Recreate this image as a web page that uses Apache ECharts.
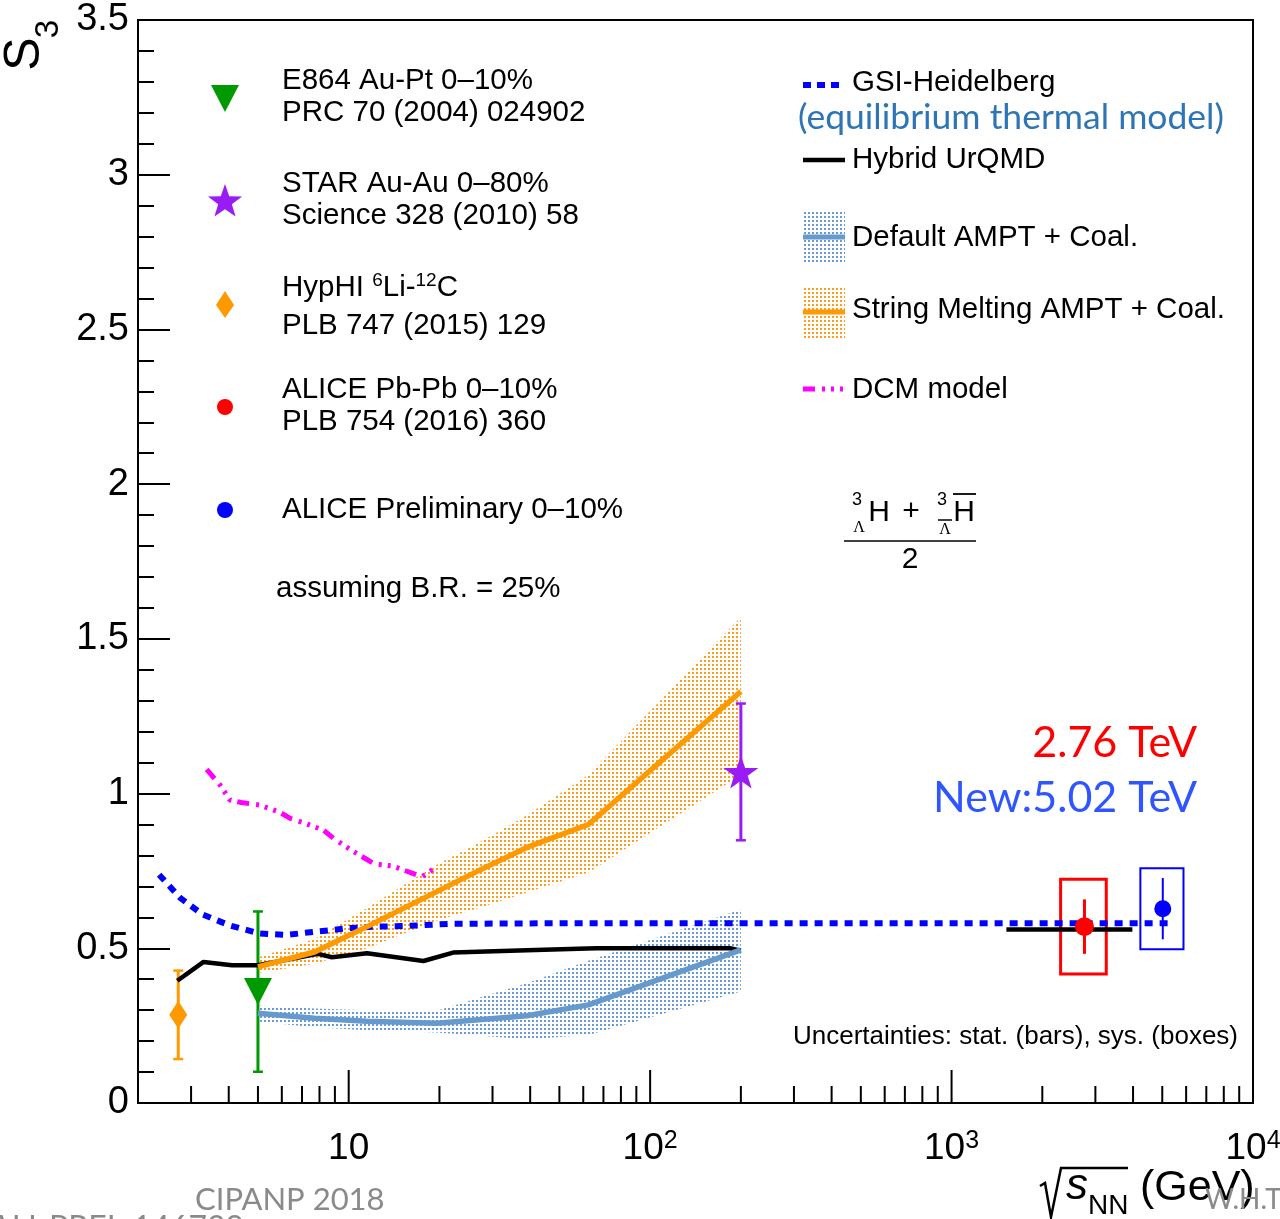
<!DOCTYPE html>
<html>
<head>
<meta charset="utf-8">
<script src="https://cdn.jsdelivr.net/npm/echarts@6/dist/echarts.min.js"></script>
<style>
  html, body { margin: 0; padding: 0; background: #fff; }
  #chart { width: 1280px; height: 1219px; }
</style>
</head>
<body>
<div id="chart"></div>
<script>
// GSI-Heidelberg thermal model
const gsiX = [2.35, 2.76, 3.28, 4.03, 5.05, 6.2, 7.8, 8.8, 9.9, 12.4, 15.5, 21.6, 50, 200, 1000, 5400];
const gsiY = [0.738, 0.663, 0.609, 0.574, 0.548, 0.543, 0.554, 0.559, 0.565, 0.570, 0.572, 0.579, 0.581, 0.581, 0.581, 0.581];

// Hybrid UrQMD
const urqmdX = [2.7, 3.3, 4.1, 5.0, 7.9, 8.8, 11.5, 17.7, 22.2, 39, 66, 184, 200];
const urqmdY = [0.395, 0.456, 0.445, 0.445, 0.482, 0.471, 0.484, 0.459, 0.486, 0.494, 0.5, 0.5, 0.492];
const urqmdLhcX = [1520, 3980];
const urqmdLhcY = [0.561, 0.561];

// Default AMPT + coalescence
const ampDefX = [5, 7.7, 11.5, 19.6, 39, 62.4, 200];
const ampDefY = [0.29, 0.274, 0.264, 0.258, 0.282, 0.317, 0.495];
const ampDefHi = [0.315, 0.305, 0.30, 0.298, 0.387, 0.46, 0.625];
const ampDefLo = [0.263, 0.245, 0.235, 0.228, 0.206, 0.22, 0.36];

// String melting AMPT + coalescence
const ampSmX = [5, 7.7, 11.5, 19.6, 27, 39, 62.4, 200];
const ampSmY = [0.44, 0.488, 0.57, 0.683, 0.751, 0.826, 0.90, 1.33];
const ampSmHi = [0.47, 0.53, 0.63, 0.77, 0.84, 0.93, 1.06, 1.57];
const ampSmLo = [0.42, 0.45, 0.50, 0.59, 0.63, 0.68, 0.745, 1.06];

// DCM model
const dcmX = [3.38, 3.74, 4.04, 4.4, 5.05, 5.9, 6.4, 7.16, 8.24, 9.0, 10.4, 12.2, 14, 17.5, 19.3];
const dcmY = [1.078, 1.028, 0.979, 0.971, 0.963, 0.94, 0.92, 0.904, 0.882, 0.852, 0.812, 0.772, 0.766, 0.731, 0.759];

// measurements: E864, STAR, HypHI, ALICE 2.76 TeV, ALICE 5.02 TeV
const expX = [5.0, 200, 2.72, 2760, 5020];
const expY = [0.36, 1.07, 0.285, 0.57, 0.628];
const expErr = [0.259, 0.221, 0.143, 0.088, 0.099];

// systematic boxes (ALICE 2.76, ALICE 5.02)
const sysX0 = [2300, 4230];
const sysX1 = [3260, 5880];
const sysY0 = [0.417, 0.497];
const sysY1 = [0.723, 0.759];

// axis ticks
const xMajorTicks = [10, 100, 1000];
const xMinorTicks = [3, 4, 5, 6, 7, 8, 9, 20, 30, 40, 50, 60, 70, 80, 90,
  200, 300, 400, 500, 600, 700, 800, 900, 2000, 3000, 4000, 5000, 6000, 7000, 8000, 9000];

const FONT = "'Liberation Sans', Arial, Helvetica, sans-serif";
const SOFT = "Lato, 'Open Sans', sans-serif";

function dots(color) {
  const c = document.createElement('canvas');
  c.width = 4; c.height = 4;
  const g = c.getContext('2d');
  g.fillStyle = color;
  g.fillRect(0, 0, 2, 2);
  return { image: c, repeat: 'repeat' };
}
const blueDots = dots('#6a9ad4');
const orangeDots = dots('#ff9c1a');

function pairs(xs, ys) { return xs.map((x, i) => [x, ys[i]]); }

function line(name, xs, ys, color, width, dash) {
  return {
    name, type: 'line', data: pairs(xs, ys), showSymbol: false, silent: true,
    lineStyle: { color, width, type: dash || 'solid' }
  };
}

function band(name, xs, lo, hi, fill) {
  return {
    name, type: 'custom', silent: true,
    data: [[xs[0], lo[0]]],
    renderItem: (params, api) => {
      const pts = [];
      xs.forEach((x, i) => pts.push(api.coord([x, hi[i]])));
      for (let i = xs.length - 1; i >= 0; i--) pts.push(api.coord([xs[i], lo[i]]));
      return { type: 'polygon', shape: { points: pts }, style: { fill } };
    }
  };
}

function errBar(i, color, width, cap) {
  return {
    type: 'custom', silent: true,
    data: [[expX[i], expY[i] - expErr[i], expY[i] + expErr[i]]],
    renderItem: (params, api) => {
      const a = api.coord([api.value(0), api.value(1)]);
      const b = api.coord([api.value(0), api.value(2)]);
      const kids = [{ type: 'line', shape: { x1: a[0], y1: a[1], x2: b[0], y2: b[1] },
        style: { stroke: color, lineWidth: width } }];
      if (cap) {
        kids.push({ type: 'line', shape: { x1: a[0] - cap, y1: a[1], x2: a[0] + cap, y2: a[1] }, style: { stroke: color, lineWidth: 2.5 } });
        kids.push({ type: 'line', shape: { x1: b[0] - cap, y1: b[1], x2: b[0] + cap, y2: b[1] }, style: { stroke: color, lineWidth: 2.5 } });
      }
      return { type: 'group', children: kids };
    }
  };
}

function sysBox(i, color, width) {
  return {
    type: 'custom', silent: true,
    data: [[sysX0[i], sysX1[i], sysY0[i], sysY1[i]]],
    renderItem: (params, api) => {
      const p0 = api.coord([api.value(0), api.value(3)]);
      const p1 = api.coord([api.value(1), api.value(2)]);
      return { type: 'rect', shape: { x: p0[0], y: p0[1], width: p1[0] - p0[0], height: p1[1] - p0[1] },
        style: { fill: 'none', stroke: color, lineWidth: width } };
    }
  };
}

function point(i, symbol, size, color, rotate) {
  return {
    type: 'scatter', silent: true, data: [[expX[i], expY[i]]],
    symbol, symbolSize: size, symbolRotate: rotate || 0,
    itemStyle: { color, opacity: 1 }, z: 5
  };
}

function ticks(values, len) {
  return {
    type: 'custom', silent: true,
    data: values.map(v => [v, 0]),
    renderItem: (params, api) => {
      const p = api.coord([api.value(0), 0]);
      return { type: 'line', shape: { x1: p[0], y1: p[1], x2: p[0], y2: p[1] - len },
        style: { stroke: '#000', lineWidth: 2 } };
    }
  };
}

const STAR = 'path://M50,0 L61.8,35.3 L98.1,35.3 L68.8,57.1 L79.4,92.6 L50,71 L20.6,92.6 L31.2,57.1 L1.9,35.3 L38.2,35.3 Z';

function txt(x, y, text, size, opts) {
  return {
    type: 'text', x, y, silent: true,
    style: Object.assign({ text, fontSize: size, fontFamily: FONT, fill: '#000', align: 'left', verticalAlign: 'middle' }, opts || {})
  };
}
function seg(x1, y1, x2, y2, stroke, lineWidth, lineDash) {
  return { type: 'line', silent: true, shape: { x1, y1, x2, y2 }, style: { stroke, lineWidth, lineDash: lineDash || null } };
}
function starPts(cx, cy, ro, ri) {
  const pts = [];
  for (let k = 0; k < 10; k++) {
    const r = k % 2 ? ri : ro;
    const a = -Math.PI / 2 + k * Math.PI / 5;
    pts.push([cx + r * Math.cos(a), cy + r * Math.sin(a)]);
  }
  return pts;
}

const graphics = [
  // left legend
  { type: 'polygon', silent: true, shape: { points: [[211, 85], [239, 85], [225, 112]] }, style: { fill: '#009900' } },
  txt(282, 81, 'E864 Au-Pt 0–10%', 29.5),
  txt(282, 113, 'PRC 70 (2004) 024902', 29.5),
  { type: 'polygon', silent: true, shape: { points: starPts(225, 202, 18, 7.2) }, style: { fill: '#9a1cf5' } },
  txt(282, 184, 'STAR Au-Au 0–80%', 29.5),
  txt(282, 216, 'Science 328 (2010) 58', 29.5),
  { type: 'polygon', silent: true, shape: { points: [[225, 291], [234, 305], [225, 318], [216, 305]] }, style: { fill: '#ff9900' } },
  { type: 'text', x: 282, y: 288, silent: true, style: {
      text: 'HypHI {s|6}Li-{s|12}C', fontSize: 29.5, fontFamily: FONT, fill: '#000', verticalAlign: 'middle',
      rich: { s: { fontSize: 19, fontFamily: FONT, verticalAlign: 'top', lineHeight: 34 } } } },
  txt(282, 326, 'PLB 747 (2015) 129', 29.5),
  { type: 'circle', silent: true, shape: { cx: 225, cy: 407, r: 8 }, style: { fill: '#ff0000' } },
  txt(282, 390, 'ALICE Pb-Pb 0–10%', 29.5),
  txt(282, 422, 'PLB 754 (2016) 360', 29.5),
  { type: 'circle', silent: true, shape: { cx: 225, cy: 510, r: 8 }, style: { fill: '#0000ff' } },
  txt(282, 510, 'ALICE Preliminary 0–10%', 29.5),
  txt(276, 589, 'assuming B.R. = 25%', 29.5),

  // right legend
  seg(803, 85, 845, 85, '#0000ff', 6, [8, 6]),
  txt(852, 83, 'GSI-Heidelberg', 29.5),
  txt(798, 118, '(equilibrium thermal model)', 35.5, { fontFamily: SOFT, fill: '#2e75b6' }),
  seg(803, 160, 845, 160, '#000', 4.5),
  txt(852, 160, 'Hybrid UrQMD', 29.5),
  { type: 'rect', silent: true, shape: { x: 803, y: 210, width: 42, height: 54 }, style: { fill: blueDots } },
  seg(803, 237, 845, 237, '#6699cc', 5),
  txt(852, 238, 'Default AMPT + Coal.', 29.5),
  { type: 'rect', silent: true, shape: { x: 803, y: 286, width: 42, height: 53 }, style: { fill: orangeDots } },
  seg(803, 312, 845, 312, '#ff9900', 5),
  txt(852, 310, 'String Melting AMPT + Coal.', 29.5),
  seg(803, 389, 845, 389, '#ff00ff', 5, [12, 7, 3, 6, 3, 6, 3, 6]),
  txt(852, 390, 'DCM model', 29.5),

  // (3ΛH + 3Λ̄H̄)/2
  txt(857, 500, '3', 18, { align: 'center' }),
  txt(859, 528, 'Λ', 16, { align: 'center', fontFamily: "'Liberation Serif', serif" }),
  txt(879, 513, 'H', 30, { align: 'center' }),
  txt(911, 512, '+', 30, { align: 'center' }),
  txt(942, 500, '3', 18, { align: 'center' }),
  txt(945, 530, 'Λ', 16, { align: 'center', fontFamily: "'Liberation Serif', serif" }),
  seg(938, 520, 952, 520, '#000', 1.5),
  txt(964, 513, 'H', 30, { align: 'center' }),
  seg(953, 494, 976, 494, '#000', 1.8),
  seg(844, 541, 976, 541, '#000', 1.5),
  txt(910, 560, '2', 30, { align: 'center' }),

  // energy labels
  txt(1197, 743, '2.76 TeV', 43, { align: 'right', fontFamily: SOFT, fill: '#ff0000' }),
  txt(1197, 798, 'New:5.02 TeV', 43, { align: 'right', fontFamily: SOFT, fill: '#2f55ff' }),
  txt(1238, 1037, 'Uncertainties: stat. (bars), sys. (boxes)', 26, { align: 'right' }),

  // y-axis title S_3
  { type: 'text', x: 25, y: 54, rotation: Math.PI / 2, silent: true,
    style: { text: 'S', fontSize: 50, fontFamily: FONT, fill: '#000', align: 'center', verticalAlign: 'middle' } },
  { type: 'text', x: 49, y: 29, rotation: Math.PI / 2, silent: true,
    style: { text: '3', fontSize: 33, fontFamily: FONT, fill: '#000', align: 'center', verticalAlign: 'middle' } },

  // x-axis title sqrt(s_NN) (GeV)
  { type: 'polyline', silent: true, shape: { points: [[1040, 1186], [1045, 1183], [1051, 1217], [1061, 1168], [1128, 1168]] },
    style: { stroke: '#000', lineWidth: 2.5, fill: null } },
  txt(1066, 1187, 's', 44, { fontStyle: 'italic' }),
  txt(1088, 1206, 'NN', 28),
  txt(1140, 1188, '(GeV)', 43),

  // watermarks
  txt(195, 1200, 'CIPANP 2018', 31, { fontFamily: SOFT, fill: '#8a8a8a' }),
  txt(1205, 1200, 'W.H.Trautmann', 28, { fontFamily: SOFT, fill: '#8a8a8a' }),
  txt(-10, 1229, 'ALI-PREL-146739', 32, { fontFamily: SOFT, fill: '#8a8a8a' })
];

const chart = echarts.init(document.getElementById('chart'), null, { renderer: 'canvas' });
chart.setOption({
  animation: false,
  backgroundColor: '#fff',
  grid: { left: 138, right: 27, top: 20, bottom: 116, show: true, borderColor: '#000', borderWidth: 2,
    containLabel: false, outerBoundsMode: 'none' },
  xAxis: {
    type: 'log', logBase: 10, min: 2, max: 10000,
    axisLine: { show: true, lineStyle: { color: '#000', width: 2 } },
    axisTick: { show: false },
    splitLine: { show: false },
    axisLabel: {
      margin: 26, color: '#000', fontFamily: FONT, fontSize: 37,
      formatter: v => {
        const l = Math.log10(v), e = Math.round(l);
        if (Math.abs(l - e) > 1e-6 || e < 1) return '';
        return e === 1 ? '{b|10}' : '{b|10}{s|' + e + '}';
      },
      rich: {
        b: { fontSize: 37, fontFamily: FONT, color: '#000', lineHeight: 40 },
        s: { fontSize: 25, fontFamily: FONT, color: '#000', verticalAlign: 'top', lineHeight: 40 }
      }
    }
  },
  yAxis: {
    type: 'value', min: 0, max: 3.5, interval: 0.5,
    axisLine: { show: true, lineStyle: { color: '#000', width: 2 } },
    axisTick: { show: true, inside: true, length: 32, lineStyle: { color: '#000', width: 2 } },
    minorTick: { show: true, splitNumber: 5, length: 16, lineStyle: { color: '#000', width: 2 } },
    splitLine: { show: false },
    axisLabel: { margin: 9, color: '#000', fontFamily: FONT, fontSize: 38, formatter: v => String(v) }
  },
  series: [
    ticks(xMajorTicks, 33),
    ticks(xMinorTicks, 17),
    line('GSI-Heidelberg', gsiX, gsiY, '#0000ff', 6, [8, 7]),
    line('Hybrid UrQMD', urqmdX, urqmdY, '#000', 4.5),
    line('Hybrid UrQMD LHC', urqmdLhcX, urqmdLhcY, '#000', 4.5),
    line('DCM model', dcmX, dcmY, '#ff00ff', 5, [12, 7, 3, 6, 3, 6, 3, 6]),
    band('Default AMPT band', ampDefX, ampDefLo, ampDefHi, blueDots),
    line('Default AMPT + Coal.', ampDefX, ampDefY, '#6699cc', 5.5),
    band('String Melting band', ampSmX, ampSmLo, ampSmHi, orangeDots),
    line('String Melting AMPT + Coal.', ampSmX, ampSmY, '#ff9900', 5.5),
    sysBox(0, '#ff0000', 3),
    sysBox(1, '#0000ff', 2),
    errBar(0, '#009900', 3, 5),
    errBar(1, '#9a1cf5', 3, 5),
    errBar(2, '#ff9900', 3, 5),
    errBar(3, '#ff0000', 3, 0),
    errBar(4, '#0000ff', 2, 0),
    point(0, 'triangle', [28, 27], '#009900', 180),
    point(1, STAR, [35, 33], '#9a1cf5'),
    point(2, 'diamond', [18, 28], '#ff9900'),
    point(3, 'circle', 19, '#ff0000'),
    point(4, 'circle', 17, '#0000ff')
  ],
  graphic: graphics
});
</script>
</body>
</html>
